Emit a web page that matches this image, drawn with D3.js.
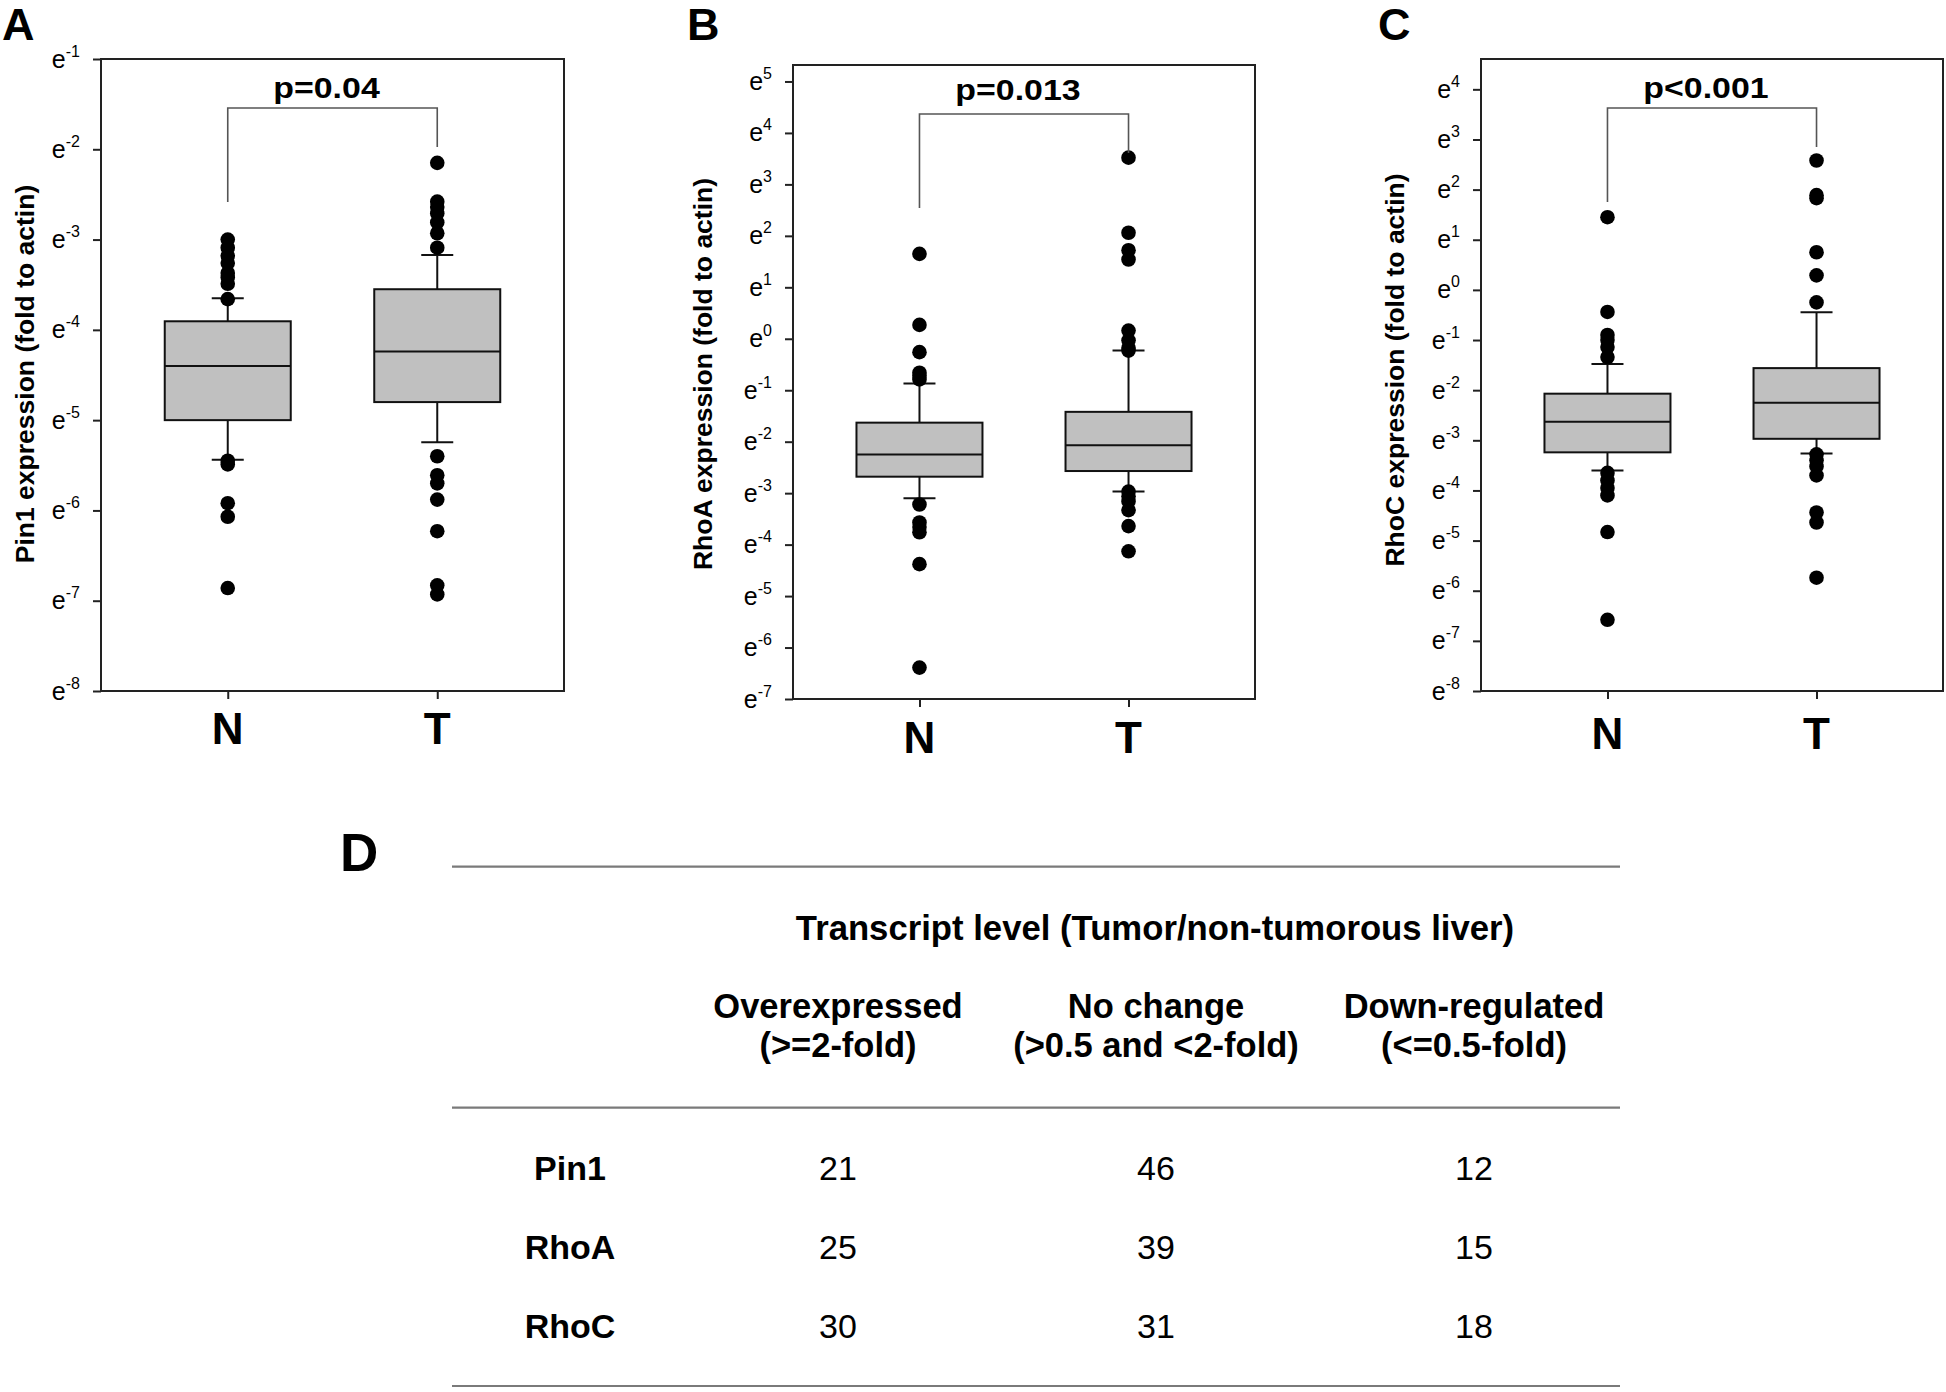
<!DOCTYPE html>
<html><head><meta charset="utf-8">
<script src="https://cdn.jsdelivr.net/npm/d3@7"></script>
<style>
body{margin:0;background:#fff}
svg{display:block}
text{font-family:"Liberation Sans",Arial,Helvetica,sans-serif;fill:#000}
</style>
</head><body>
<svg id="chart" width="1946" height="1392"></svg>
<script>
// ---------- DATA (all values are natural-log exponents: expression = e^value) ----------
const groups = ["N", "T"];

// Panel A: Pin1
const pin1Ticks = [-1, -2, -3, -4, -5, -6, -7, -8];
const pin1BoxN = {lo: -5.44, q1: -5.00, med: -4.40, q3: -3.905, hi: -3.65};
const pin1BoxT = {lo: -5.245, q1: -4.80, med: -4.24, q3: -3.55, hi: -3.17};
const pin1OutN = [-3.00, -3.09, -3.18, -3.26, -3.37, -3.42, -3.49, -3.66, -5.45, -5.49, -5.92, -6.07, -6.86];
const pin1OutT = [-2.15, -2.58, -2.64, -2.71, -2.81, -2.93, -3.09, -5.40, -5.61, -5.70, -5.88, -6.23, -6.83, -6.93];

// Panel B: RhoA
const rhoATicks = [5, 4, 3, 2, 1, 0, -1, -2, -3, -4, -5, -6, -7];
const rhoABoxN = {lo: -3.10, q1: -2.68, med: -2.25, q3: -1.63, hi: -0.87};
const rhoABoxT = {lo: -2.97, q1: -2.57, med: -2.07, q3: -1.42, hi: -0.23};
const rhoAOutN = [1.65, 0.27, -0.26, -0.66, -0.72, -0.79, -3.22, -3.57, -3.66, -3.76, -4.38, -6.39];
const rhoAOutT = [3.52, 2.06, 1.72, 1.54, 0.16, -0.03, -0.18, -0.23, -2.97, -3.06, -3.16, -3.33, -3.64, -4.13];

// Panel C: RhoC
const rhoCTicks = [4, 3, 2, 1, 0, -1, -2, -3, -4, -5, -6, -7, -8];
const rhoCBoxN = {lo: -3.60, q1: -3.24, med: -2.63, q3: -2.07, hi: -1.48};
const rhoCBoxT = {lo: -3.265, q1: -2.97, med: -2.25, q3: -1.56, hi: -0.445};
const rhoCOutN = [1.45, -0.44, -0.90, -1.00, -1.14, -1.34, -3.65, -3.80, -3.95, -4.10, -4.83, -6.58];
const rhoCOutT = [2.58, 1.89, 1.83, 0.75, 0.29, -0.25, -3.28, -3.40, -3.52, -3.70, -4.44, -4.64, -5.74];

const pLabels = ["p=0.04", "p=0.013", "p<0.001"];
const yLabels = ["Pin1 expression (fold to actin)", "RhoA expression (fold to actin)", "RhoC expression (fold to actin)"];

// Panel D: table
const tableTitle = "Transcript level (Tumor/non-tumorous liver)";
const tableColsLine1 = ["Overexpressed", "No change", "Down-regulated"];
const tableColsLine2 = ["(>=2-fold)", "(>0.5 and <2-fold)", "(<=0.5-fold)"];
const tableRows = ["Pin1", "RhoA", "RhoC"];
const overexpressed = [21, 25, 30];
const noChange = [46, 39, 31];
const downRegulated = [12, 15, 18];

// ---------- LAYOUT ----------
const svg = d3.select("#chart");

const panels = [
  {letter: "A", letterX: 2, frame: {l: 101, r: 564, t: 59, b: 691}, domain: [-8, -1],
   ticks: pin1Ticks, boxes: [pin1BoxN, pin1BoxT], outs: [pin1OutN, pin1OutT],
   ylabX: 25, ylabY: 374, catY: 744, pY: 98},
  {letter: "B", letterX: 687, frame: {l: 793, r: 1255, t: 65, b: 699}, domain: [-7, 5.32],
   ticks: rhoATicks, boxes: [rhoABoxN, rhoABoxT], outs: [rhoAOutN, rhoAOutT],
   ylabX: 703, ylabY: 374, catY: 753, pY: 100},
  {letter: "C", letterX: 1378, frame: {l: 1481, r: 1943, t: 59, b: 691}, domain: [-8, 4.605],
   ticks: rhoCTicks, boxes: [rhoCBoxN, rhoCBoxT], outs: [rhoCOutN, rhoCOutT],
   ylabX: 1395, ylabY: 370, catY: 749, pY: 98}
];

panels.forEach((P, i) => {
  const f = P.frame;
  const g = svg.append("g");
  const y = d3.scaleLinear().domain(P.domain).range([f.b, f.t]);
  const x = d3.scalePoint().domain(groups).range([f.l, f.r]).padding(0.605);

  // panel letter
  g.append("text").attr("x", P.letterX).attr("y", 40)
    .attr("font-size", 45).attr("font-weight", "bold").text(P.letter);

  // y axis ticks
  const ya = g.append("g").attr("transform", `translate(${f.l},0)`)
    .call(d3.axisLeft(y).tickValues(P.ticks).tickSize(8).tickSizeOuter(0).tickFormat(() => ""));
  ya.select(".domain").remove();
  ya.selectAll(".tick line").attr("stroke", "#222").attr("stroke-width", 2);
  ya.selectAll(".tick text").remove();
  P.ticks.forEach(t => {
    const tx = g.append("text").attr("x", f.l - 21).attr("y", y(t) + 8.5)
      .attr("text-anchor", "end").attr("font-size", 25);
    tx.append("tspan").text("e");
    tx.append("tspan").attr("dy", -11).attr("font-size", 16).text(String(t));
  });

  // x axis ticks
  const xa = g.append("g").attr("transform", `translate(0,${f.b})`)
    .call(d3.axisBottom(x).tickSize(8).tickSizeOuter(0).tickFormat(() => ""));
  xa.select(".domain").remove();
  xa.selectAll(".tick line").attr("stroke", "#222").attr("stroke-width", 2);
  xa.selectAll(".tick text").remove();
  groups.forEach(c => {
    g.append("text").attr("x", x(c)).attr("y", P.catY).attr("text-anchor", "middle")
      .attr("font-size", 44).attr("font-weight", "bold").text(c);
  });

  // y label
  g.append("text").attr("transform", `translate(${P.ylabX},${P.ylabY}) rotate(-90)`)
    .attr("text-anchor", "middle").attr("dominant-baseline", "central")
    .attr("font-size", 26.5).attr("font-weight", "bold").text(yLabels[i]);

  // boxes
  const bw = 126, cw = 32;
  groups.forEach((c, k) => {
    const b = P.boxes[k], cx = x(c);
    g.append("line").attr("x1", cx).attr("x2", cx).attr("y1", y(b.hi)).attr("y2", y(b.q3))
      .attr("stroke", "#111").attr("stroke-width", 2);
    g.append("line").attr("x1", cx).attr("x2", cx).attr("y1", y(b.q1)).attr("y2", y(b.lo))
      .attr("stroke", "#111").attr("stroke-width", 2);
    [b.hi, b.lo].forEach(v => g.append("line").attr("x1", cx - cw / 2).attr("x2", cx + cw / 2)
      .attr("y1", y(v)).attr("y2", y(v)).attr("stroke", "#111").attr("stroke-width", 2));
    g.append("rect").attr("x", cx - bw / 2).attr("width", bw)
      .attr("y", y(b.q3)).attr("height", y(b.q1) - y(b.q3))
      .attr("fill", "#c0c0c0").attr("stroke", "#111").attr("stroke-width", 2);
    g.append("line").attr("x1", cx - bw / 2).attr("x2", cx + bw / 2)
      .attr("y1", y(b.med)).attr("y2", y(b.med)).attr("stroke", "#111").attr("stroke-width", 2);
    g.selectAll(null).data(P.outs[k]).enter().append("circle")
      .attr("cx", cx).attr("cy", d => y(d)).attr("r", 7.3).attr("fill", "#000");
  });

  // frame
  g.append("rect").attr("x", f.l).attr("y", f.t).attr("width", f.r - f.l).attr("height", f.b - f.t)
    .attr("fill", "none").attr("stroke", "#222").attr("stroke-width", 2);

  // significance bracket
  const xN = x("N"), xT = x("T");
  const hy = f.t + 49;
  g.append("path")
    .attr("d", `M${xN},${f.t + 143}V${hy}H${xT}V${f.t + 88}`)
    .attr("fill", "none").attr("stroke", "#555").attr("stroke-width", 1.6);
  g.append("text").attr("transform", `translate(${(xN + xT) / 2 - 6},${P.pY}) scale(1.13,1)`)
    .attr("text-anchor", "middle").attr("font-size", 30).attr("font-weight", "bold").text(pLabels[i]);
});

// ---------- TABLE D ----------
const tg = svg.append("g");
tg.append("text").attr("x", 340).attr("y", 871).attr("font-size", 53).attr("font-weight", "bold").text("D");
const colX = d3.scalePoint().domain(tableColsLine1).range([838, 1474]);
const rowY = d3.scalePoint().domain(tableRows).range([1180, 1338]);
const ruleX = [452, 1620];
[866.7, 1107.7, 1386].forEach(ry => tg.append("line").attr("x1", ruleX[0]).attr("x2", ruleX[1])
  .attr("y1", ry).attr("y2", ry).attr("stroke", "#7a7a7a").attr("stroke-width", 2.2));
tg.append("text").attr("x", 1155).attr("y", 940).attr("text-anchor", "middle")
  .attr("font-size", 34.7).attr("font-weight", "bold").text(tableTitle);
tableColsLine1.forEach((c, k) => {
  tg.append("text").attr("x", colX(c)).attr("y", 1018).attr("text-anchor", "middle")
    .attr("font-size", 34.5).attr("font-weight", "bold").text(c);
  tg.append("text").attr("x", colX(c)).attr("y", 1057).attr("text-anchor", "middle")
    .attr("font-size", 34.5).attr("font-weight", "bold").text(tableColsLine2[k]);
});
const tableValues = [overexpressed, noChange, downRegulated];
tableRows.forEach((r, ri) => {
  tg.append("text").attr("x", 570).attr("y", rowY(r)).attr("text-anchor", "middle")
    .attr("font-size", 34).attr("font-weight", "bold").text(r);
  tableColsLine1.forEach((c, ci) => {
    tg.append("text").attr("x", colX(c)).attr("y", rowY(r)).attr("text-anchor", "middle")
      .attr("font-size", 34).text(tableValues[ci][ri]);
  });
});
</script>
</body></html>
